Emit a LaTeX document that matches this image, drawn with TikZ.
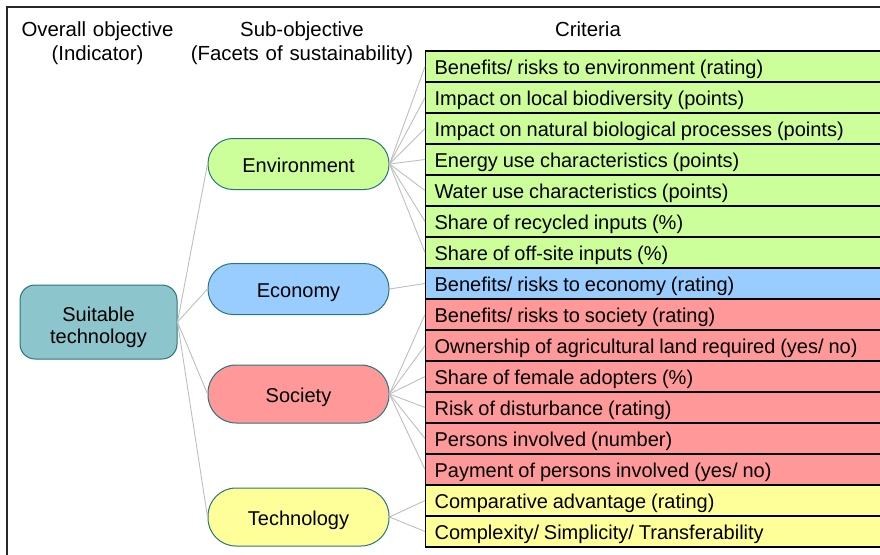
\documentclass[tikz,border=0pt]{standalone}
\usepackage{fontspec}
\setmainfont{Liberation Sans}
\definecolor{cgreen}{RGB}{204,255,153}
\definecolor{cblue}{RGB}{153,204,255}
\definecolor{cred}{RGB}{255,153,153}
\definecolor{cyellow}{RGB}{255,255,153}
\definecolor{cteal}{RGB}{140,198,204}
\definecolor{nodeedge}{RGB}{40,118,122}
\definecolor{linkgray}{RGB}{190,190,190}
\definecolor{framegray}{RGB}{40,40,40}
\newcommand\narrowspaces{\spaceskip=4.9pt plus 1pt minus 1pt\relax\xspaceskip=\spaceskip}
\begin{document}
\begin{tikzpicture}[x=1pt,y=-1pt,
  font=\fontsize{20}{24}\selectfont,
  crit/.style={draw=black, line width=1.2pt, anchor=west, minimum height=31pt,
    text width=438pt, inner xsep=9pt, inner ysep=0pt, align=left,
    text height=17pt, text depth=2pt,
    execute at begin node=\narrowspaces},
  sub/.style={draw=nodeedge, line width=1pt, minimum width=181pt,
    text height=16pt, text depth=0pt},
  link/.style={draw=linkgray, line width=0.9pt},
  hdr/.style={text width=240pt, align=center, inner sep=0pt, anchor=base,
    font=\fontsize{20.4}{23.5}\selectfont}]
\useasboundingbox (0,0) rectangle (880,554);
\clip (0,0) rectangle (880,554);
\draw[line width=2pt, draw=framegray] (7,7) rectangle (900,600);

% headers
\node[hdr] (h1) at (97.5,36.5) {Overall objective\\(Indicator)};
\node[hdr] (h2) at (302,36.5) {Sub-objective\\(Facets of sustainability)};
\node[hdr] (h3) at (588,36.5) {Criteria};

% root
\node[draw=nodeedge, line width=1pt, fill=cteal, rounded corners=15pt,
  minimum width=157pt, minimum height=74pt, text width=150pt, align=center,
  inner xsep=3.5pt, text height=24.8pt, text depth=26.8pt,
  font=\fontsize{20}{22.5}\selectfont] (suit) at (98.5,322)
  {Suitable\\technology};

% sub-objectives
\node[sub, fill=cgreen, minimum height=51pt, rounded corners=25pt] (env) at (298.5,164) {Environment};
\node[sub, fill=cblue, minimum height=51pt, rounded corners=25pt] (eco) at (298.5,289) {Economy};
\node[sub, fill=cred, minimum height=58pt, rounded corners=28pt] (soc) at (298.5,394) {Society};
\node[sub, fill=cyellow, minimum height=58pt, rounded corners=28pt] (tec) at (298.5,517) {Technology};

% criteria
\node[crit, fill=cgreen] (c1) at (425,66.5) {Benefits/ risks to environment (rating)};
\node[crit, fill=cgreen] (c2) at (425,97.5) {Impact on local biodiversity (points)};
\node[crit, fill=cgreen] (c3) at (425,128.5) {Impact on natural biological processes (points)};
\node[crit, fill=cgreen] (c4) at (425,159.5) {Energy use characteristics (points)};
\node[crit, fill=cgreen] (c5) at (425,190.5) {Water use characteristics (points)};
\node[crit, fill=cgreen] (c6) at (425,221.5) {Share of recycled inputs (\%)};
\node[crit, fill=cgreen] (c7) at (425,252.5) {Share of off-site inputs (\%)};
\node[crit, fill=cblue] (c8) at (425,283.5) {Benefits/ risks to economy (rating)};
\node[crit, fill=cred] (c9) at (425,314.5) {Benefits/ risks to society (rating)};
\node[crit, fill=cred] (c10) at (425,345.5) {Ownership of agricultural land required (yes/ no)};
\node[crit, fill=cred] (c11) at (425,376.5) {Share of female adopters (\%)};
\node[crit, fill=cred] (c12) at (425,407.5) {Risk of disturbance (rating)};
\node[crit, fill=cred] (c13) at (425,438.5) {Persons involved (number)};
\node[crit, fill=cred] (c14) at (425,469.5) {Payment of persons involved (yes/ no)};
\node[crit, fill=cyellow] (c15) at (425,500.5) {Comparative advantage (rating)};
\node[crit, fill=cyellow] (c16) at (425,531.5) {Complexity/ Simplicity/ Transferability};

% connectors
\foreach \s in {env,eco,soc,tec} \draw[link] (suit.east) -- (\s.west);
\foreach \c in {c1,c2,c3,c4,c5,c6,c7} \draw[link] (env.east) -- (\c.west);
\draw[link] (eco.east) -- (c8.west);
\foreach \c in {c9,c10,c11,c12,c13,c14} \draw[link] (soc.east) -- (\c.west);
\foreach \c in {c15,c16} \draw[link] (tec.east) -- (\c.west);
\end{tikzpicture}
\end{document}
